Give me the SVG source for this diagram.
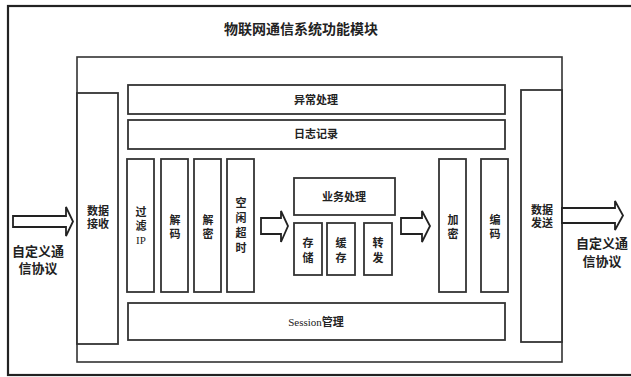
<svg xmlns="http://www.w3.org/2000/svg" width="631" height="377" viewBox="0 0 631 377">
<style>
.frame{fill:none;stroke:#333;stroke-width:1.6}
.outer{fill:none;stroke:#222;stroke-width:2.2}
.box{fill:#fff;stroke:#333;stroke-width:1.8}
.arrow{fill:#fff;stroke:#222;stroke-width:1.8;stroke-linejoin:miter}
text{font-family:"Liberation Serif","Noto Sans CJK SC",serif;fill:#222;text-anchor:middle;dominant-baseline:central}
.t{font-size:11px;font-weight:bold}
.lat{font-weight:normal}
.title{font-size:14px;font-weight:bold}
.side{font-size:13px;font-weight:bold}
</style>
<rect x="8" y="6" width="630" height="369" class="outer"/>
<text x="301" y="29" class="title">物联网通信系统功能模块</text>
<rect x="77" y="57" width="485" height="305" class="frame"/>

<g id="recv"><rect x="77" y="93" width="41" height="251" class="box"/><text x="98" y="211" class="t">数据</text><text x="98" y="224" class="t">接收</text></g>
<g id="send"><rect x="521" y="90" width="41" height="252" class="box"/><text x="542" y="210" class="t">数据</text><text x="542" y="223" class="t">发送</text></g>
<g id="exception"><rect x="128" y="85" width="377" height="29" class="box"/><text x="316" y="100" class="t">异常处理</text></g>
<g id="log"><rect x="128" y="120" width="377" height="29" class="box"/><text x="316" y="134" class="t">日志记录</text></g>
<g id="filterip"><rect x="127" y="159" width="27" height="133" class="box"/><text x="141" y="212" class="t">过</text><text x="141" y="226" class="t">滤</text><text x="141" y="240" class="t lat">IP</text></g>
<g id="decode"><rect x="161" y="159" width="27" height="133" class="box"/><text x="175" y="220" class="t">解</text><text x="175" y="234" class="t">码</text></g>
<g id="decrypt"><rect x="194" y="159" width="27" height="133" class="box"/><text x="208" y="220" class="t">解</text><text x="208" y="234" class="t">密</text></g>
<g id="idle"><rect x="227" y="159" width="27" height="133" class="box"/><text x="241" y="203" class="t">空</text><text x="241" y="218" class="t">闲</text><text x="241" y="233" class="t">超</text><text x="241" y="248" class="t">时</text></g>
<g id="business"><rect x="294" y="178" width="101" height="37" class="box"/><text x="344" y="197" class="t">业务处理</text></g>
<g id="store"><rect x="294" y="223" width="28" height="52" class="box"/><text x="308" y="243" class="t">存</text><text x="308" y="258" class="t">储</text></g>
<g id="cache"><rect x="327" y="223" width="28" height="52" class="box"/><text x="341" y="243" class="t">缓</text><text x="341" y="258" class="t">存</text></g>
<g id="forward"><rect x="364" y="223" width="28" height="52" class="box"/><text x="378" y="243" class="t">转</text><text x="378" y="258" class="t">发</text></g>
<g id="encrypt"><rect x="439" y="159" width="27" height="133" class="box"/><text x="453" y="220" class="t">加</text><text x="453" y="234" class="t">密</text></g>
<g id="encode"><rect x="481" y="159" width="27" height="133" class="box"/><text x="495" y="220" class="t">编</text><text x="495" y="234" class="t">码</text></g>
<g id="session"><rect x="128" y="303" width="377" height="37" class="box"/><text x="316" y="322" class="t"><tspan class="lat">Session</tspan>管理</text></g>

<g id="connectors">
<polygon class="arrow" points="13,216 66,216 66,207 73,221.5 66,236 66,227 13,227"/>
<polygon class="arrow" points="562,208 615,208 615,201 623,215.5 615,230 615,223 562,223"/>
<polygon class="arrow" points="261,218 281,218 281,211 288,226 281,242 281,234 261,234"/>
<polygon class="arrow" points="401,218 422,218 422,211 430,226 422,242 422,234 401,234"/>
</g>
<g id="labels">
<text x="38" y="251" class="side">自定义通</text>
<text x="38" y="268" class="side">信协议</text>
<text x="602" y="243" class="side">自定义通</text>
<text x="602" y="261" class="side">信协议</text>
</g>
</svg>
